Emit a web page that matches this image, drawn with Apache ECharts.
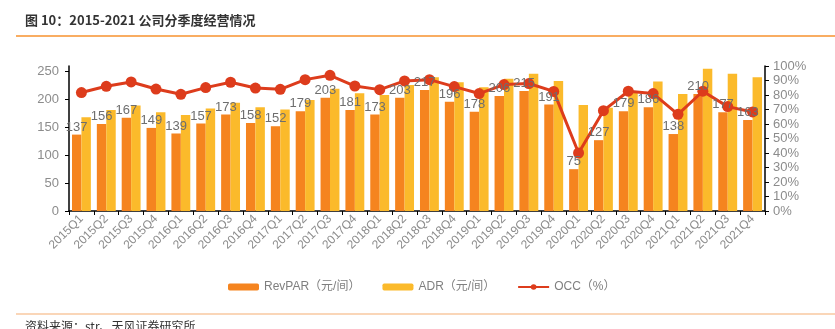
<!DOCTYPE html>
<html><head><meta charset="utf-8">
<script src="https://cdn.jsdelivr.net/npm/echarts@6/dist/echarts.min.js"></script>
<style>html,body{margin:0;padding:0;background:#fff}#c{width:835px;height:329px}</style>
</head><body><div id="c"></div>
<script>
var categories = ['2015Q1','2015Q2','2015Q3','2015Q4','2016Q1','2016Q2','2016Q3','2016Q4','2017Q1','2017Q2','2017Q3','2017Q4','2018Q1','2018Q2','2018Q3','2018Q4','2019Q1','2019Q2','2019Q3','2019Q4','2020Q1','2020Q2','2020Q3','2020Q4','2021Q1','2021Q2','2021Q3','2021Q4'];
var revpar = [137,156,167,149,139,157,173,158,152,179,203,181,173,203,217,196,178,206,215,191,75,127,179,186,138,210,177,163];
var adr = [168,181,189,177,172,184,194,186,182,199,219,211,208,226,240,231,222,237,246,233,190,185,213,232,210,255,246,240];
var occ = [81.7,86,89,84.1,80.5,85.1,88.8,84.8,83.9,90.6,93.6,86.2,83.7,89.7,90.6,85.8,81,87.2,87.9,82.5,40,69.2,82.6,81,66.7,82.6,72,68.3];
var leftTicks = [0,50,100,150,200,250];

var FONT = '"Liberation Sans","Noto Sans CJK SC",sans-serif';
var GAP = 0.24;
var chart = echarts.init(document.getElementById('c'));
chart.setOption({
  animation: false,
  textStyle: {fontFamily: FONT},
  graphic: [
    {type:'text', left: 25, top: 14, style:{text:'图 10：2015-2021 公司分季度经营情况', font:'bold 13px "Noto Sans CJK SC",sans-serif', fill:'#333'}},
    {type:'line', shape:{x1:16,y1:36,x2:835,y2:36}, style:{stroke:'#F7922E', lineWidth:1.5}},
    {type:'line', shape:{x1:16,y1:314,x2:835,y2:314}, style:{stroke:'#F9C9A0', lineWidth:1.5}},
    {type:'text', left: 25, top: 320, style:{text:'资料来源：str、天风证券研究所', font:'12px "Noto Sans CJK SC",sans-serif', fill:'#333'}}
  ],
  legend: {
    left: 223, top: 276, itemWidth: 31, itemHeight: 7, itemGap: 22,
    textStyle: {color:'#7f7f7f', fontSize: 12, fontFamily: FONT},
    data: ['RevPAR（元/间）','ADR（元/间）','OCC（%）']
  },
  grid: {left: 69, right: 70, top: 66, bottom: 118},
  xAxis: {
    type: 'category', data: categories,
    axisLine: {lineStyle:{color:'#000', width:1.5}},
    axisTick: {show:true, lineStyle:{color:'#000'}, length:4},
    axisLabel: {rotate: 45, color:'#8c8c8c', fontSize: 12, margin: 6, interval: 0}
  },
  yAxis: [
    {type:'value', min:0, max:260, interval:50,
     axisLine:{show:true, lineStyle:{color:'#000', width:1.5}},
     axisTick:{show:true, length:4, lineStyle:{color:'#000'}},
     splitLine:{show:false},
     axisLabel:{color:'#8c8c8c', fontSize:13, margin:10, showMaxLabel:false,
       formatter: function(v){ return leftTicks.indexOf(v) >= 0 ? String(v) : ''; }}},
    {type:'value', min:0, max:100, interval:10,
     axisLine:{show:true, lineStyle:{color:'#000', width:1.5}},
     axisTick:{show:true, length:4, lineStyle:{color:'#000'}},
     splitLine:{show:false},
     axisLabel:{color:'#8c8c8c', fontSize:13, margin:8, formatter:'{value}%'}}
  ],
  series: [
    {name:'RevPAR（元/间）', type:'bar', data: revpar, barGap:'0%', barCategoryGap:(GAP*100)+'%',
     itemStyle:{color:'#F5841F'}},
    {name:'ADR（元/间）', type:'bar', data: adr, itemStyle:{color:'#FBBA2B'}},
    {name:'OCC（%）', type:'line', yAxisIndex:1, data: occ, symbol:'circle', symbolSize:11,
     lineStyle:{color:'#DD3C1C', width:3}, itemStyle:{color:'#DD3C1C'}, z: 3},
    {type:'custom', zlevel: 1, z: 10, silent: true, clip: false, data: revpar.map(function(v,i){return [i,v];}),
     renderItem: function(params, api){
       var p = api.coord([api.value(0), api.value(1)]);
       var band = api.size([1,0])[0];
       var bw = band*(1-GAP)/2;
       return {type:'text', x: p[0]-bw/2, y: p[1]-1,
         style:{text:String(api.value(1)), fill:'#6e6e6e', font:'13px "Liberation Sans",sans-serif', textAlign:'center', textVerticalAlign:'bottom'}};
     }}
  ]
});
</script></body></html>
